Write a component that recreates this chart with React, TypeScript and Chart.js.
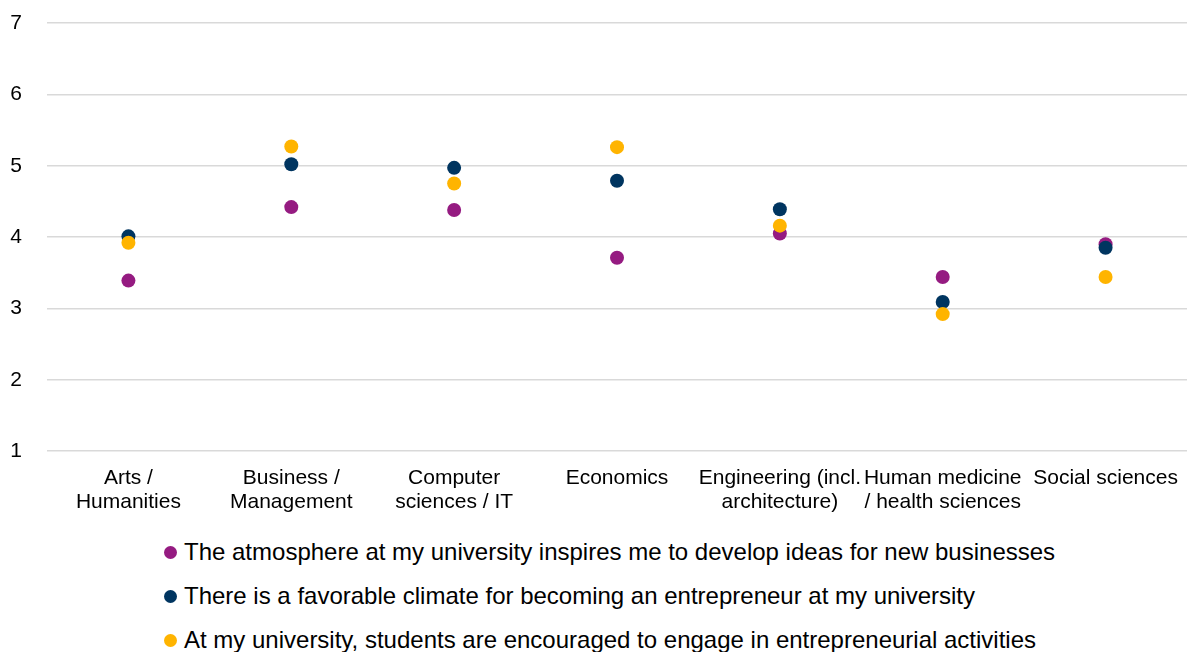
import React, { useEffect, useRef } from "react";
import { Chart, registerables } from "chart.js";

Chart.register(...registerables);

const categories: (string | string[])[] = [
  ["Arts /", "Humanities"],
  ["Business /", "Management"],
  ["Computer", "sciences / IT"],
  "Economics",
  ["Engineering (incl.", "architecture)"],
  ["Human medicine", "/ health sciences"],
  "Social sciences",
];

const atmosphere = [3.39, 4.42, 4.38, 3.71, 4.05, 3.44, 3.9];
const climate = [4.01, 5.02, 4.97, 4.79, 4.39, 3.09, 3.85];
const encouraged = [3.92, 5.27, 4.75, 5.26, 4.16, 2.92, 3.44];

const seriesLabels = [
  "The atmosphere at my university inspires me to develop ideas for new businesses",
  "There is a favorable climate for becoming an entrepreneur at my university",
  "At my university, students are encouraged to engage in entrepreneurial activities",
];
const seriesColors = ["#951b81", "#003560", "#ffb400"];

const yTicks = [1, 2, 3, 4, 5, 6, 7];

const FONT = "'Liberation Sans', Arial, Helvetica, sans-serif";

export default function App() {
  const ref = useRef<HTMLCanvasElement | null>(null);

  useEffect(() => {
    document.body.style.margin = "0";
    const values = [atmosphere, climate, encouraged];
    const chart = new Chart(ref.current as HTMLCanvasElement, {
      type: "line",
      data: {
        labels: categories,
        datasets: values.map((v, i) => ({
          label: seriesLabels[i],
          data: v,
          showLine: false,
          pointRadius: 7,
          pointHoverRadius: 7,
          pointBorderWidth: 0,
          pointBackgroundColor: seriesColors[i],
          borderColor: seriesColors[i],
          backgroundColor: seriesColors[i],
          order: 3 - i,
        })),
      },
      options: {
        animation: false,
        responsive: true,
        maintainAspectRatio: false,
        layout: { padding: { top: 23, left: 10, right: 4, bottom: 0 } },
        plugins: {
          legend: { display: false },
          tooltip: { enabled: false },
        },
        scales: {
          x: {
            type: "category",
            offset: true,
            grid: { display: false, drawTicks: false },
            border: { display: false },
            afterFit: (axis: any) => {
              axis.paddingLeft = 0;
              axis.paddingRight = 0;
            },
            ticks: {
              color: "#000",
              font: { family: FONT, size: 21, lineHeight: 1.14 },
              padding: 15,
              maxRotation: 0,
              minRotation: 0,
              autoSkip: false,
            },
          },
          y: {
            min: yTicks[0],
            max: yTicks[yTicks.length - 1],
            grid: { color: "#d9d9d9", lineWidth: 1.5, drawTicks: false },
            border: { display: false },
            afterBuildTicks: (axis: any) => {
              axis.ticks = yTicks.map((v) => ({ value: v }));
            },
            afterFit: (axis: any) => {
              axis.width = 37;
              axis.paddingTop = 0;
              axis.paddingBottom = 0;
            },
            ticks: {
              color: "#000",
              font: { family: FONT, size: 21 },
              padding: 25,
              stepSize: 1,
            },
          },
        },
      },
    });
    return () => chart.destroy();
  }, []);

  return (
    <div style={{ width: 1194, height: 652, overflow: "hidden", fontFamily: FONT }}>
      <div style={{ position: "relative", width: 1194, height: 529 }}>
        <canvas ref={ref} />
      </div>
      <div style={{ marginTop: 1, paddingLeft: 164 }}>
        {seriesLabels.map((label, i) => (
          <div
            key={label}
            style={{
              height: 44,
              display: "flex",
              alignItems: "center",
              fontSize: 24,
              color: "#000",
              whiteSpace: "nowrap",
            }}
          >
            <span
              style={{
                display: "inline-block",
                width: 13,
                height: 13,
                borderRadius: "50%",
                background: seriesColors[i],
                marginRight: 7,
              }}
            />
            {label}
          </div>
        ))}
      </div>
    </div>
  );
}
